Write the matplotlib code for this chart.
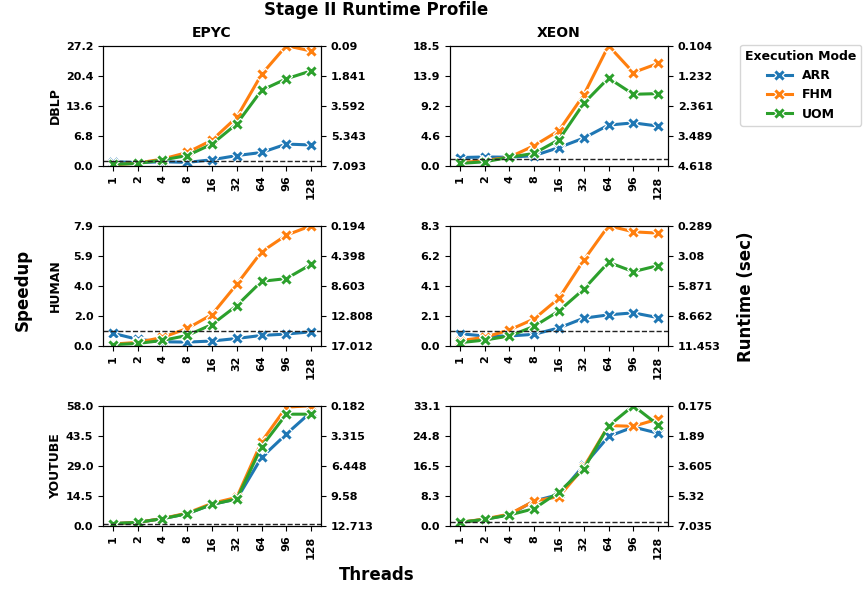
import matplotlib
matplotlib.use('Agg')
import matplotlib.pyplot as plt
import numpy as np

plt.rcParams['font.family'] = 'DejaVu Sans'
plt.rcParams['font.weight'] = 'bold'
plt.rcParams['axes.labelweight'] = 'bold'
plt.rcParams['axes.titleweight'] = 'bold'

threads = ['1', '2', '4', '8', '16', '32', '64', '96', '128']
modes = ['ARR', 'FHM', 'UOM']
colors = ['#1f77b4', '#ff7f0e', '#2ca02c']
datasets = ['DBLP', 'HUMAN', 'YOUTUBE']
machines = ['EPYC', 'XEON']

# speedup per thread count
epyc_dblp_arr = [0.9, 0.7, 0.9, 0.75, 1.35, 2.3, 3.0, 4.9, 4.7]
epyc_dblp_fhm = [0.2, 0.6, 1.5, 3.0, 5.8, 11.0, 20.7, 27.2, 26.0]
epyc_dblp_uom = [0.3, 0.5, 1.3, 2.3, 4.9, 9.5, 17.1, 19.7, 21.5]

xeon_dblp_arr = [1.25, 1.35, 1.3, 1.55, 2.8, 4.25, 6.25, 6.6, 6.1]
xeon_dblp_fhm = [0.45, 0.8, 1.3, 3.1, 5.4, 10.9, 18.48, 14.35, 15.75]
xeon_dblp_uom = [0.35, 0.6, 1.3, 1.9, 4.0, 9.6, 13.5, 11.0, 11.1]

epyc_human_arr = [0.82, 0.42, 0.26, 0.24, 0.31, 0.48, 0.68, 0.77, 0.92]
epyc_human_fhm = [0.11, 0.22, 0.55, 1.14, 2.06, 4.06, 6.2, 7.3, 7.92]
epyc_human_uom = [0.07, 0.15, 0.35, 0.68, 1.4, 2.65, 4.25, 4.43, 5.37]

xeon_human_arr = [0.83, 0.67, 0.67, 0.79, 1.23, 1.9, 2.13, 2.27, 1.94]
xeon_human_fhm = [0.35, 0.58, 1.09, 1.85, 3.28, 5.9, 8.28, 7.86, 7.77]
xeon_human_uom = [0.21, 0.39, 0.67, 1.34, 2.4, 3.9, 5.76, 5.11, 5.53]

epyc_youtube_arr = [1.0, 1.6, 3.4, 5.8, 10.3, 12.9, 33.0, 44.3, 55.0]
epyc_youtube_fhm = [1.0, 1.6, 3.5, 6.1, 10.8, 13.7, 40.6, 57.3, 58.0]
epyc_youtube_uom = [1.0, 1.6, 3.4, 5.8, 10.3, 12.9, 38.2, 53.9, 53.9]

xeon_youtube_arr = [0.9, 1.75, 3.05, 6.8, 8.6, 16.6, 24.6, 27.2, 25.5]
xeon_youtube_fhm = [0.9, 1.85, 3.2, 6.8, 8.0, 16.1, 27.6, 27.4, 29.4]
xeon_youtube_uom = [0.9, 1.75, 2.95, 4.7, 9.3, 15.6, 27.5, 33.08, 27.8]

# runtime axis ticks (sec), slowest at the bottom
epyc_dblp_rt = [7.093, 5.343, 3.592, 1.841, 0.09]
xeon_dblp_rt = [4.618, 3.489, 2.361, 1.232, 0.104]
epyc_human_rt = [17.012, 12.808, 8.603, 4.398, 0.194]
xeon_human_rt = [11.453, 8.662, 5.871, 3.08, 0.289]
epyc_youtube_rt = [12.713, 9.58, 6.448, 3.315, 0.182]
xeon_youtube_rt = [7.035, 5.32, 3.605, 1.89, 0.175]

speedup = {
    ('DBLP', 'EPYC'): [epyc_dblp_arr, epyc_dblp_fhm, epyc_dblp_uom],
    ('DBLP', 'XEON'): [xeon_dblp_arr, xeon_dblp_fhm, xeon_dblp_uom],
    ('HUMAN', 'EPYC'): [epyc_human_arr, epyc_human_fhm, epyc_human_uom],
    ('HUMAN', 'XEON'): [xeon_human_arr, xeon_human_fhm, xeon_human_uom],
    ('YOUTUBE', 'EPYC'): [epyc_youtube_arr, epyc_youtube_fhm, epyc_youtube_uom],
    ('YOUTUBE', 'XEON'): [xeon_youtube_arr, xeon_youtube_fhm, xeon_youtube_uom],
}
runtime = {
    ('DBLP', 'EPYC'): epyc_dblp_rt,
    ('DBLP', 'XEON'): xeon_dblp_rt,
    ('HUMAN', 'EPYC'): epyc_human_rt,
    ('HUMAN', 'XEON'): xeon_human_rt,
    ('YOUTUBE', 'EPYC'): epyc_youtube_rt,
    ('YOUTUBE', 'XEON'): xeon_youtube_rt,
}

fig = plt.figure(figsize=(8.63, 5.92), dpi=100)

col_x = [0.1194, 0.5214]
row_y = [0.7201, 0.4160, 0.1120]
w, h = 0.2526, 0.2027

handles = []
for r, ds in enumerate(datasets):
    for c, mach in enumerate(machines):
        ax = fig.add_axes([col_x[c], row_y[r], w, h])
        series = speedup[(ds, mach)]
        lines = []
        for mode, vals, col in zip(modes, series, colors):
            ln, = ax.plot(threads, vals, color=col, lw=2.2, marker='X',
                          markersize=8, markeredgecolor='white',
                          markeredgewidth=0.9, label=mode)
            lines.append(ln)
        if not handles:
            handles = lines
        ax.axhline(1.0, color='#222222', ls='--', lw=1)

        ymax = max(max(v) for v in series)
        ax.set_ylim(0, ymax)
        yt = np.linspace(0, ymax, 5)
        ax.set_yticks(yt)
        ax.set_yticklabels(['%.1f' % v for v in yt])
        ax.tick_params(axis='both', labelsize=8)
        ax.tick_params(axis='x', rotation=90)

        rt = runtime[(ds, mach)]
        ax2 = ax.twinx()
        ax2.set_ylim(rt[0], rt[-1])
        ax2.set_yticks(rt)
        ax2.set_yticklabels(['%g' % v for v in rt])
        ax2.tick_params(axis='y', labelsize=8)

        if r == 0:
            ax.set_title(mach, fontsize=10, pad=6)
        if c == 0:
            ax.set_ylabel(ds, fontsize=9)
            ax.yaxis.set_label_coords(-0.19, 0.5)

fig.text(0.436, 0.983, 'Stage II Runtime Profile', ha='center', va='center',
         fontsize=12, fontweight='bold')
fig.text(0.026, 0.51, 'Speedup', rotation=90, ha='center', va='center',
         fontsize=12, fontweight='bold')
fig.text(0.865, 0.498, 'Runtime (sec)', rotation=90, ha='center', va='center',
         fontsize=12, fontweight='bold')
fig.text(0.436, 0.028, 'Threads', ha='center', va='center',
         fontsize=12, fontweight='bold')

fig.legend(handles=handles, labels=modes, title='Execution Mode',
           loc='upper left', bbox_to_anchor=(0.8575, 0.924), borderaxespad=0,
           fontsize=9, title_fontproperties={'weight': 'bold', 'size': 9})

fig.savefig('out.png', dpi=100)
